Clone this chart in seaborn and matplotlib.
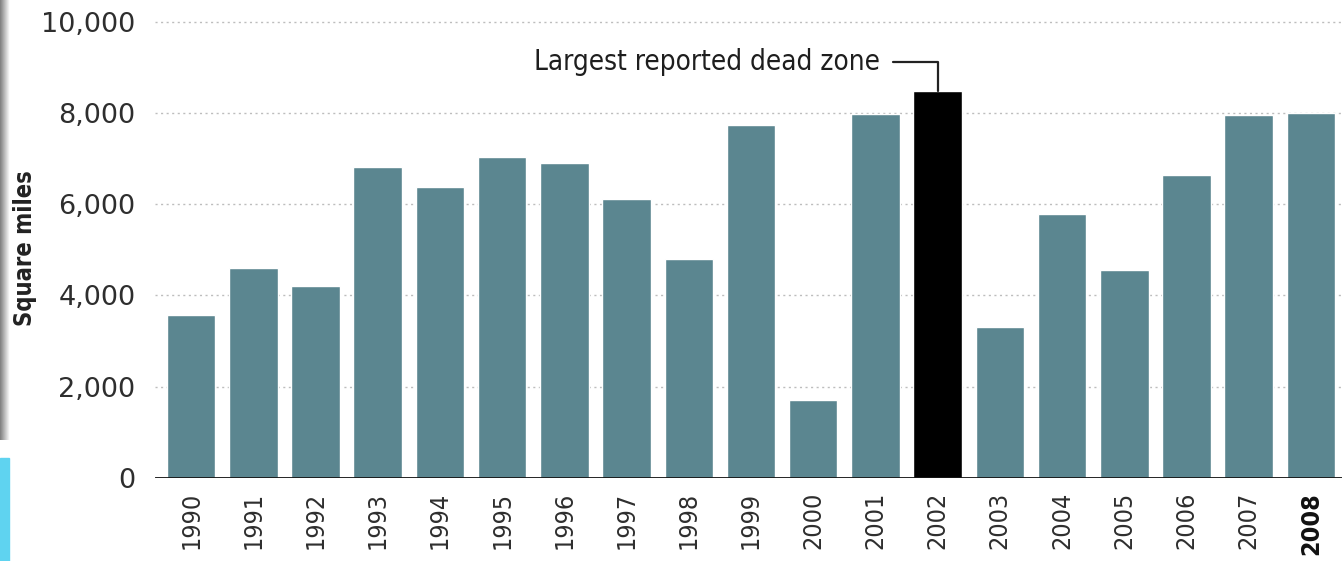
import numpy as np
import pandas as pd
import matplotlib
matplotlib.use("Agg")
import matplotlib.pyplot as plt
from matplotlib import font_manager
from matplotlib.font_manager import FontProperties
from matplotlib.patches import Rectangle
import seaborn as sns

years = [str(y) for y in range(1990, 2009)]
area_sq_mi = [3575, 4600, 4210, 6825, 6380, 7030, 6900, 6110, 4810, 7730,
              1700, 7980, 8490, 3310, 5790, 4560, 6640, 7950, 8000]
yticks = [0, 2000, 4000, 6000, 8000, 10000]
highlight_year = "2002"
annotation_text = "Largest reported dead zone"
ylabel_text = "Square miles"

BAR = "#5b8690"
HIGHLIGHT = "#000000"

sns.set_theme(style="white")
plt.rcParams["font.family"] = ["DejaVu Sans"]


def narrow_font(size, bold=False):
    """Pick an installed condensed/narrow face, falling back to DejaVu Sans."""
    best = None
    for f in font_manager.fontManager.ttflist:
        path = f.fname.lower()
        if not ("condensed" in path or "narrow" in path or f.stretch in ("condensed", "semi-condensed")):
            continue
        if "italic" in path or "oblique" in path or f.style != "normal":
            continue
        is_bold = f.weight in ("bold", 700) or "bold" in path
        if is_bold != bold:
            continue
        if any(k in path for k in ("extra", "light", "thin", "black", "medium", "semi")) and "semi-condensed" != f.stretch:
            continue
        score = 0 if "dejavu" in path else 1
        if best is None or score < best[0]:
            best = (score, f.fname)
    if best:
        return FontProperties(fname=best[1], size=size)
    return FontProperties(family="DejaVu Sans", size=size * 0.9,
                          weight="bold" if bold else "normal")


df = pd.DataFrame({"year": years, "area": area_sq_mi})
palette = {y: (HIGHLIGHT if y == highlight_year else BAR) for y in years}

fig = plt.figure(figsize=(13.42, 5.61), dpi=100)
ax = fig.add_axes([155 / 1342, 1 - 478 / 561, 1 - 155 / 1342, (478 - 8) / 561])

sns.barplot(data=df, x="year", y="area", hue="year", palette=palette,
            legend=False, width=0.78, saturation=1, ax=ax, zorder=2)

ax.set_xlim(-0.58, len(years) - 0.5)
ax.set_ylim(0, 10300)
ax.set_yticks(yticks)
ax.set_yticklabels([f"{v:,}" for v in yticks], fontsize=19.5, color="#2e2e2e")
ax.tick_params(axis="y", length=0, pad=14)
ax.tick_params(axis="x", length=0, pad=10)

fp_tick = narrow_font(18)
fp_tick_bold = narrow_font(18, bold=True)
for lab in ax.get_xticklabels():
    lab.set_rotation(90)
    if lab.get_text() == years[-1]:
        lab.set_fontproperties(fp_tick_bold)
        lab.set_color("#111111")
    else:
        lab.set_fontproperties(fp_tick)
        lab.set_color("#2e2e2e")

for v in yticks[1:]:
    ax.axhline(v, color="#bdbdbd", lw=1.0, ls=(0, (1.5, 2.5)), zorder=1)
ax.axhline(0, color="#111111", lw=2, zorder=3)

for s in ax.spines.values():
    s.set_visible(False)

ax.set_xlabel("")
ax.set_ylabel(ylabel_text, fontproperties=narrow_font(17, bold=True), color="#222222")
ax.yaxis.set_label_coords(-0.099, 0.49)

hi = years.index(highlight_year)
ax.annotate(annotation_text, xy=(hi, area_sq_mi[hi]), xytext=(hi - 0.93, 9120),
            ha="right", va="center", fontproperties=narrow_font(20), color="#1e1e1e",
            arrowprops=dict(arrowstyle="-", color="#222222", lw=1.6,
                            connectionstyle="angle,angleA=0,angleB=90,rad=0",
                            shrinkA=7, shrinkB=0))

# page edge shading and a sliver of the page background
shadow = fig.add_axes([0, 1 - 440 / 561, 10 / 1342, 440 / 561])
grad = np.linspace(0.5, 1.0, 20)[None, :]
shadow.imshow(np.repeat(grad, 10, axis=0), cmap="gray", vmin=0, vmax=1, aspect="auto")
shadow.axis("off")
fig.patches.append(Rectangle((0, 0), 9 / 1342, 103 / 561, transform=fig.transFigure,
                             color="#5fd3f0", zorder=5))

fig.savefig("out.png", dpi=100)
